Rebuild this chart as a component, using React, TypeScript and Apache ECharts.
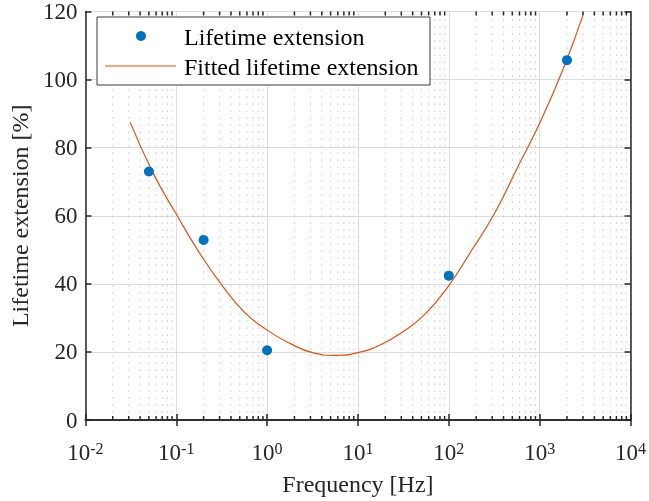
import React, { useEffect, useRef } from "react";
import * as echarts from "echarts";

const measuredFreq = [0.05, 0.2, 1, 100, 2000];
const measuredExt = [73.0, 52.9, 20.5, 42.4, 105.7];

const fitFreq = [0.0311, 0.0562, 0.1, 0.178, 0.316, 0.562, 1, 1.78, 3.16, 5.62, 10, 17.8, 31.6, 56.2, 100, 178, 316, 562, 1000, 1778, 2985];
const fitExt = [87.5, 72.3, 60.5, 49.3, 39.7, 31.7, 26.4, 22.5, 19.8, 19.0, 19.8, 22.1, 26.0, 31.4, 39.5, 49.8, 60.5, 73.8, 87.2, 102.5, 118.8];

const decades = [0.01, 0.1, 1, 10, 100, 1000];
const minorMultipliers = [2, 3, 4, 5, 6, 7, 8, 9];

const seriesNames = ["Lifetime extension", "Fitted lifetime extension"];

const FONT = "Liberation Serif";
const AXIS_COLOR = "#262626";
const DOT_COLOR = "#0072BD";
const LINE_COLOR = "#D95319";

export default function App() {
  const ref = useRef<HTMLDivElement>(null);
  useEffect(() => {
    if (!ref.current) return;
    document.body.style.margin = "0";
    document.body.style.overflow = "hidden";
    const chart = echarts.init(ref.current, null, { renderer: "svg" });
    const minorValues: number[][] = [];
    decades.forEach((d) => minorMultipliers.forEach((m) => minorValues.push([d * m, 0])));

    const xCommon = {
      type: "log" as const,
      logBase: 10,
      min: 0.01,
      max: 10000,
    };
    const legendFont = { fontFamily: FONT, fontSize: 24, fill: "#000000" };

    chart.setOption({
      animation: false,
      textStyle: { fontFamily: FONT },
      grid: { left: 84, top: 11, right: 18, bottom: 79, containLabel: false },
      graphic: {
        elements: [
          {
            type: "group",
            z: 50,
            children: [
              {
                type: "rect",
                z: 50,
                x: 97,
                y: 17,
                shape: { x: 0, y: 0, width: 333, height: 68 },
                style: { fill: "#ffffff", stroke: "#3a3a3a", lineWidth: 1 },
              },
              {
                type: "circle",
                z: 51,
                shape: { cx: 141, cy: 36, r: 5 },
                style: { fill: DOT_COLOR },
              },
              {
                type: "line",
                z: 51,
                shape: { x1: 105, y1: 66, x2: 176, y2: 66 },
                style: { stroke: LINE_COLOR, lineWidth: 1.2 },
              },
              {
                type: "text",
                z: 51,
                x: 184,
                y: 37,
                style: { ...legendFont, text: seriesNames[0], verticalAlign: "middle", align: "left" },
              },
              {
                type: "text",
                z: 51,
                x: 184,
                y: 67,
                style: { ...legendFont, text: seriesNames[1], verticalAlign: "middle", align: "left" },
              },
            ],
          },
        ],
      },
      xAxis: [
        {
          ...xCommon,
          position: "bottom",
          name: "Frequency [Hz]",
          nameLocation: "middle",
          nameGap: 52,
          nameTextStyle: { fontFamily: FONT, fontSize: 24, color: AXIS_COLOR },
          axisLine: { show: true, lineStyle: { color: AXIS_COLOR, width: 1.5 } },
          axisTick: { show: true, inside: true, length: 6, lineStyle: { color: AXIS_COLOR, width: 1.5 } },
          axisLabel: {
            margin: 20,
            formatter: (v: number) => `{b|10}{s|${Math.round(Math.log10(v))}}`,
            rich: {
              b: { fontFamily: FONT, fontSize: 23, color: AXIS_COLOR, lineHeight: 24 },
              s: { fontFamily: FONT, fontSize: 16, color: AXIS_COLOR, verticalAlign: "top", lineHeight: 14 },
            },
          },
          splitLine: { show: true, lineStyle: { color: "#dcdcdc", width: 1 } },
        },
        {
          ...xCommon,
          position: "top",
          axisLine: { show: true, lineStyle: { color: AXIS_COLOR, width: 1.5 } },
          axisTick: { show: true, inside: true, length: 6, lineStyle: { color: AXIS_COLOR, width: 1.5 } },
          axisLabel: { show: false },
          splitLine: { show: false },
        },
      ],
      yAxis: [
        {
          type: "value",
          min: 0,
          max: 120,
          interval: 20,
          name: "Lifetime extension [%]",
          nameLocation: "middle",
          nameGap: 52,
          nameTextStyle: { fontFamily: FONT, fontSize: 24, color: AXIS_COLOR },
          axisLine: { show: true, lineStyle: { color: AXIS_COLOR, width: 1.5 } },
          axisTick: { show: true, inside: true, length: 6, lineStyle: { color: AXIS_COLOR, width: 1.5 } },
          axisLabel: { margin: 8, fontFamily: FONT, fontSize: 23, color: AXIS_COLOR },
          splitLine: { show: true, lineStyle: { color: "#dcdcdc", width: 1 } },
        },
        {
          type: "value",
          min: 0,
          max: 120,
          interval: 20,
          position: "right",
          axisLine: { show: true, lineStyle: { color: AXIS_COLOR, width: 1.5 } },
          axisTick: { show: true, inside: true, length: 6, lineStyle: { color: AXIS_COLOR, width: 1.5 } },
          axisLabel: { show: false },
          splitLine: { show: false },
        },
      ],
      series: [
        {
          type: "custom",
          name: "minor",
          xAxisIndex: 0,
          yAxisIndex: 0,
          z: 1,
          silent: true,
          clip: false,
          encode: { x: 0, y: 1 },
          data: minorValues,
          renderItem: (params: any, api: any) => {
            const cs = params.coordSys;
            const x = api.coord([api.value(0), 0])[0];
            const top = cs.y;
            const bottom = cs.y + cs.height;
            return {
              type: "group",
              children: [
                {
                  type: "line",
                  shape: { x1: x, y1: top + 1, x2: x, y2: bottom },
                  style: { stroke: "#b8b8b8", lineWidth: 1, lineDash: [1.2, 5.8] },
                },
                {
                  type: "line",
                  shape: { x1: x, y1: bottom, x2: x, y2: bottom - 4 },
                  style: { stroke: AXIS_COLOR, lineWidth: 1.5 },
                },
                {
                  type: "line",
                  shape: { x1: x, y1: top, x2: x, y2: top + 4 },
                  style: { stroke: AXIS_COLOR, lineWidth: 1.5 },
                },
              ],
            };
          },
        },
        {
          type: "scatter",
          name: seriesNames[0],
          z: 5,
          symbol: "circle",
          symbolSize: 10,
          itemStyle: { color: DOT_COLOR, opacity: 1 },
          data: measuredFreq.map((f, i) => [f, measuredExt[i]]),
        },
        {
          type: "line",
          name: seriesNames[1],
          z: 4,
          symbol: "none",
          showSymbol: false,
          smooth: 0.5,
          lineStyle: { color: LINE_COLOR, width: 1.2 },
          itemStyle: { color: LINE_COLOR },
          data: fitFreq.map((f, i) => [f, fitExt[i]]),
        },
      ],
    });
    return () => chart.dispose();
  }, []);
  return <div ref={ref} style={{ position: "fixed", left: 0, top: 0, width: 649, height: 501 }} />;
}
